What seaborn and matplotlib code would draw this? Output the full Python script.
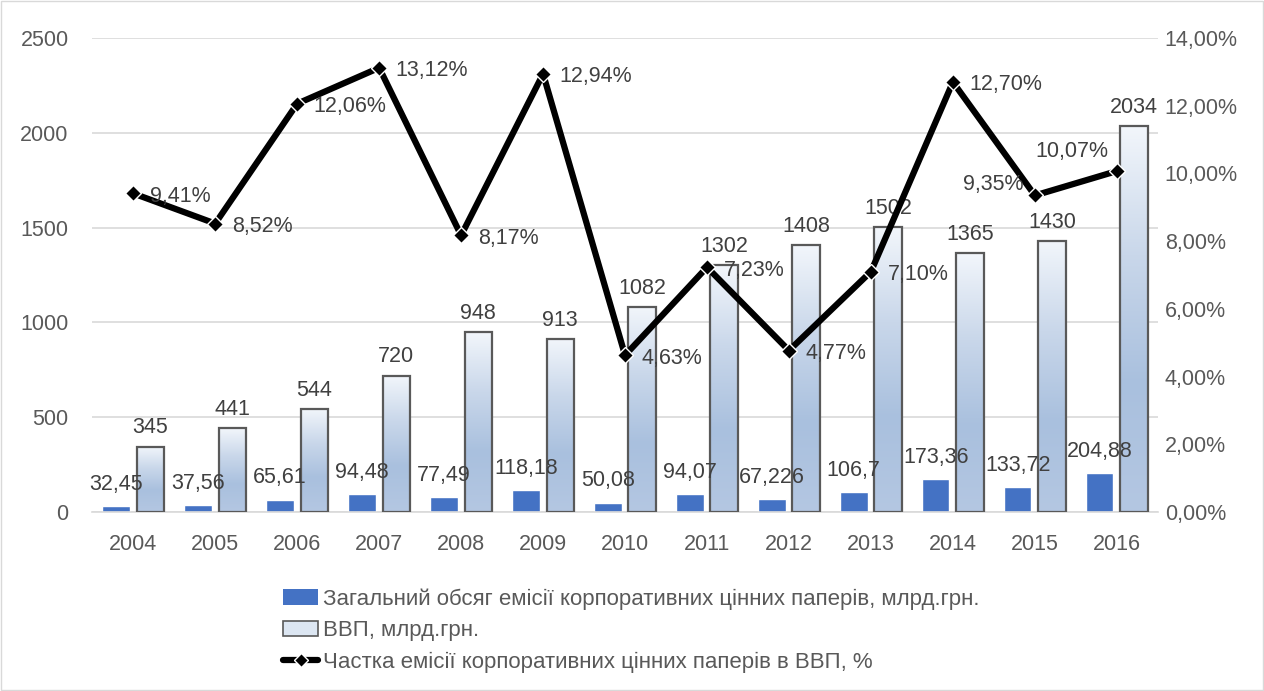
import numpy as np
import pandas as pd
import seaborn as sns
import matplotlib.pyplot as plt
from matplotlib.patches import Patch, Rectangle
from matplotlib.lines import Line2D
from matplotlib.colors import LinearSegmentedColormap
from matplotlib.ticker import FuncFormatter

# data
years = ['2004', '2005', '2006', '2007', '2008', '2009', '2010',
         '2011', '2012', '2013', '2014', '2015', '2016']
emission = [32.45, 37.56, 65.61, 94.48, 77.49, 118.18, 50.08,
            94.07, 67.226, 106.7, 173.36, 133.72, 204.88]
gdp = [345, 441, 544, 720, 948, 913, 1082, 1302, 1408, 1502, 1365, 1430, 2034]
share = [9.41, 8.52, 12.06, 13.12, 8.17, 12.94, 4.63, 7.23, 4.77, 7.10, 12.70, 9.35, 10.07]

lab_em = 'Загальний обсяг емісії корпоративних цінних паперів, млрд.грн.'
lab_gdp = 'ВВП, млрд.грн.'
lab_share = 'Частка емісії корпоративних цінних паперів в ВВП, %'

df = pd.DataFrame({'year': years * 2,
                   'value': emission + gdp,
                   'series': [lab_em] * len(years) + [lab_gdp] * len(years)})

sns.set_style('white')
plt.rcParams['font.family'] = ['Liberation Sans', 'DejaVu Sans']
txt = '#595959'
fs = 15.5

fig = plt.figure(figsize=(12.64, 6.91), dpi=100)
ax = fig.add_axes([0.073, 0.259, 0.843, 0.686])

sns.barplot(data=df, x='year', y='value', hue='series', hue_order=[lab_em, lab_gdp],
            palette=['#4472c4', '#dce6f2'], saturation=1, width=0.84, gap=0.2,
            ax=ax, legend=False, zorder=2)

# gradient for GDP bars
cmap = LinearSegmentedColormap.from_list('g', ['#b4c7e2', '#a9c0de', '#c9d7ea', '#f2f6fb'])
grad = np.linspace(0, 1, 256).reshape(-1, 1)
for bar in ax.containers[1]:
    x0, y0 = bar.get_x(), bar.get_y()
    w, h = bar.get_width(), bar.get_height()
    bar.set_facecolor('none')
    bar.set_edgecolor('#595959')
    bar.set_linewidth(1.6)
    bar.set_zorder(3)
    im = ax.imshow(grad, cmap=cmap, aspect='auto', origin='lower',
                   extent=[x0, x0 + w, y0, y0 + h], zorder=2.5)
    im.set_clip_path(bar)

for bar, v in zip(ax.containers[0], emission):
    ax.annotate(str(v).replace('.', ','), (bar.get_x() + bar.get_width() / 2, bar.get_height()),
                xytext=(0, 8), textcoords='offset points', ha='center', va='bottom',
                fontsize=fs, color='#404040')
for bar, v in zip(ax.containers[1], gdp):
    ax.annotate(str(v), (bar.get_x() + bar.get_width() / 2, bar.get_height()),
                xytext=(0, 6), textcoords='offset points', ha='center', va='bottom',
                fontsize=fs, color='#404040')

ax.set_xlim(-0.5, len(years) - 0.5)
ax.set_ylim(0, 2500)
ax.set_yticks(range(0, 2501, 500))
ax.grid(axis='y', color='#d9d9d9', lw=1.2, zorder=0)
ax.set_axisbelow(True)
ax.set_xlabel('')
ax.set_ylabel('')
for s in ['top', 'left', 'right']:
    ax.spines[s].set_visible(False)
ax.spines['bottom'].set_color('#d9d9d9')
ax.spines['bottom'].set_linewidth(1.2)
ax.tick_params(axis='both', length=0, labelsize=fs, labelcolor=txt)
ax.tick_params(axis='x', pad=16)
ax.tick_params(axis='y', pad=17)

ax2 = ax.twinx()
xs = np.arange(len(years))
sns.lineplot(x=xs, y=share, ax=ax2, color='black', lw=4.5, marker='D', markersize=8,
             markerfacecolor='black', markeredgecolor='white', markeredgewidth=1)
ax2.set_ylim(0, 14)
ax2.set_yticks(range(0, 15, 2))
ax2.yaxis.set_major_formatter(FuncFormatter(lambda v, p: f'{v:.2f}%'.replace('.', ',')))
ax2.tick_params(axis='y', length=0, labelsize=fs, labelcolor=txt, pad=5)
for s in ax2.spines.values():
    s.set_visible(False)
ax2.set_xlim(-0.5, len(years) - 0.5)

label_pos = {11: (-8, 8, 'right'), 12: (-6, 14, 'right')}
for i, v in enumerate(share):
    dx, dy, ha = label_pos.get(i, (12, -2, 'left'))
    ax2.annotate(f'{v:.2f}%'.replace('.', ','), (i, v), xytext=(dx, dy),
                 textcoords='offset points', ha=ha, va='center', fontsize=fs, color='#404040')

handles = [Patch(facecolor='#4472c4', edgecolor='none'),
           Patch(facecolor='#dce6f2', edgecolor='#595959', lw=1.2),
           Line2D([0], [0], color='black', lw=4.5, marker='D', markersize=7,
                  markerfacecolor='black', markeredgecolor='white')]
fig.legend(handles, [lab_em, lab_gdp, lab_share], loc='upper left',
           bbox_to_anchor=(0.208, 0.178), frameon=False, fontsize=16,
           labelcolor=txt, handlelength=1.6, handletextpad=0.2, labelspacing=0.48)

fig.patches.append(Rectangle((0.001, 0.001), 0.998, 0.998, transform=fig.transFigure,
                             fill=False, edgecolor='#d9d9d9', lw=1))

fig.savefig('out.png', dpi=100)
